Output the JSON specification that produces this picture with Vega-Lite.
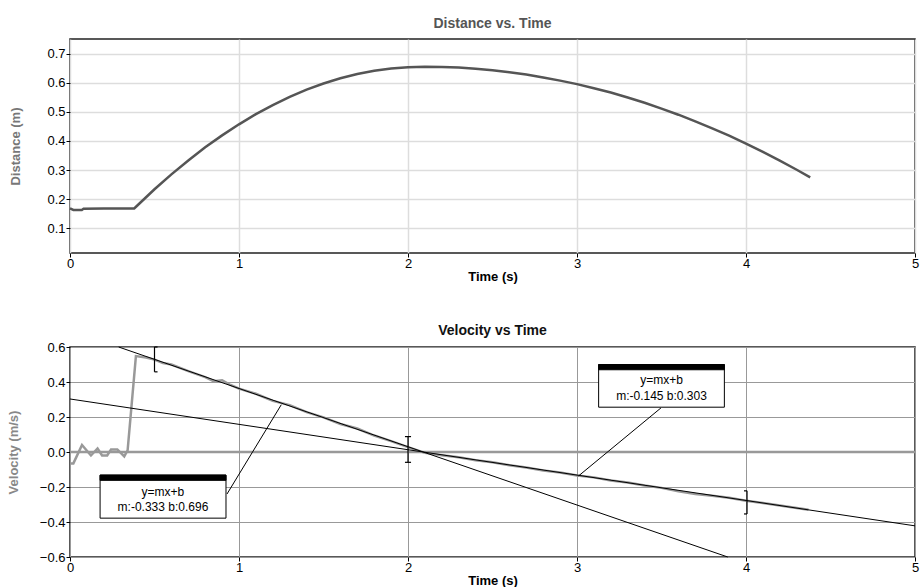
{
  "$schema": "https://vega.github.io/schema/vega-lite/v6.json",
  "padding": {"left": 6, "top": 16, "right": 2, "bottom": 2},
  "spacing": 39,
  "config": {
    "font": "Liberation Sans",
    "view": {"stroke": "#222", "strokeWidth": 1.5},
    "axis": {"labelFontSize": 13, "labelColor": "#000", "titleFontSize": 13, "titleFontWeight": "bold", "tickColor": "#000", "tickSize": 4, "domain": false, "labelFlush": false},
    "title": {"fontSize": 14, "fontWeight": "bold", "offset": 8}
  },
  "datasets": {
    "dist": [
      {"t": 0, "d": 0.168}, {"t": 0.02, "d": 0.163}, {"t": 0.07, "d": 0.163}, {"t": 0.08, "d": 0.167}, {"t": 0.2, "d": 0.168}, {"t": 0.38, "d": 0.168},
      {"t": 0.4, "d": 0.179}, {"t": 0.5, "d": 0.234}, {"t": 0.6, "d": 0.285}, {"t": 0.7, "d": 0.333}, {"t": 0.8, "d": 0.378}, {"t": 0.9, "d": 0.419},
      {"t": 1.0, "d": 0.457}, {"t": 1.1, "d": 0.492}, {"t": 1.2, "d": 0.523}, {"t": 1.3, "d": 0.551}, {"t": 1.4, "d": 0.576}, {"t": 1.5, "d": 0.597},
      {"t": 1.6, "d": 0.615}, {"t": 1.7, "d": 0.630}, {"t": 1.8, "d": 0.641}, {"t": 1.9, "d": 0.649}, {"t": 2.0, "d": 0.653}, {"t": 2.1, "d": 0.655},
      {"t": 2.2, "d": 0.654}, {"t": 2.3, "d": 0.652}, {"t": 2.4, "d": 0.648}, {"t": 2.5, "d": 0.643}, {"t": 2.6, "d": 0.636}, {"t": 2.7, "d": 0.628},
      {"t": 2.8, "d": 0.618}, {"t": 2.9, "d": 0.607}, {"t": 3.0, "d": 0.595}, {"t": 3.1, "d": 0.581}, {"t": 3.2, "d": 0.566}, {"t": 3.3, "d": 0.549},
      {"t": 3.4, "d": 0.531}, {"t": 3.5, "d": 0.511}, {"t": 3.6, "d": 0.490}, {"t": 3.7, "d": 0.467}, {"t": 3.8, "d": 0.443}, {"t": 3.9, "d": 0.418},
      {"t": 4.0, "d": 0.391}, {"t": 4.1, "d": 0.362}, {"t": 4.2, "d": 0.332}, {"t": 4.3, "d": 0.301}, {"t": 4.38, "d": 0.275}
    ],
    "vel": [
      {"t": 0, "v": -0.065}, {"t": 0.02, "v": -0.065}, {"t": 0.071, "v": 0.04}, {"t": 0.124, "v": -0.02}, {"t": 0.163, "v": 0.02}, {"t": 0.19, "v": -0.02},
      {"t": 0.22, "v": -0.02}, {"t": 0.243, "v": 0.015}, {"t": 0.28, "v": 0.015}, {"t": 0.321, "v": -0.025}, {"t": 0.341, "v": 0.01},
      {"t": 0.39, "v": 0.548}, {"t": 0.45, "v": 0.54}, {"t": 0.5, "v": 0.528}, {"t": 0.55, "v": 0.508}, {"t": 0.6, "v": 0.5}, {"t": 0.7, "v": 0.462},
      {"t": 0.8, "v": 0.428}, {"t": 0.85, "v": 0.405}, {"t": 0.9, "v": 0.41}, {"t": 0.95, "v": 0.383}, {"t": 1.0, "v": 0.362}, {"t": 1.1, "v": 0.333},
      {"t": 1.2, "v": 0.292}, {"t": 1.3, "v": 0.268}, {"t": 1.4, "v": 0.228}, {"t": 1.5, "v": 0.198}, {"t": 1.6, "v": 0.16}, {"t": 1.7, "v": 0.134},
      {"t": 1.8, "v": 0.094}, {"t": 1.9, "v": 0.062}, {"t": 2.0, "v": 0.028}, {"t": 2.1, "v": -0.005}, {"t": 2.2, "v": -0.018}, {"t": 2.3, "v": -0.03},
      {"t": 2.4, "v": -0.047}, {"t": 2.5, "v": -0.058}, {"t": 2.6, "v": -0.076}, {"t": 2.7, "v": -0.088}, {"t": 2.8, "v": -0.106}, {"t": 2.9, "v": -0.117},
      {"t": 3.0, "v": -0.134}, {"t": 3.1, "v": -0.145}, {"t": 3.2, "v": -0.163}, {"t": 3.3, "v": -0.174}, {"t": 3.4, "v": -0.192}, {"t": 3.5, "v": -0.205},
      {"t": 3.6, "v": -0.225}, {"t": 3.7, "v": -0.24}, {"t": 3.8, "v": -0.25}, {"t": 3.9, "v": -0.262}, {"t": 4.0, "v": -0.278}, {"t": 4.1, "v": -0.292},
      {"t": 4.2, "v": -0.306}, {"t": 4.3, "v": -0.32}, {"t": 4.37, "v": -0.33}
    ],
    "zero": [{"t": 0, "v": 0}, {"t": 5, "v": 0}],
    "segs": [
      {"g": "fit1", "t": 0.288, "v": 0.6}, {"g": "fit1", "t": 3.892, "v": -0.6},
      {"g": "fit2", "t": 0, "v": 0.303}, {"g": "fit2", "t": 5, "v": -0.422},
      {"g": "lead1", "t": 0.929, "v": -0.24}, {"g": "lead1", "t": 1.25, "v": 0.27},
      {"g": "lead2", "t": 3.497, "v": 0.252}, {"g": "lead2", "t": 3.01, "v": -0.136}
    ],
    "brackets": [
      {"t": 0.5, "v": 0.458, "v2": 0.6},
      {"t": 2.0, "v": -0.059, "v2": 0.088},
      {"t": 4.006, "v": -0.354, "v2": -0.222}
    ],
    "bticks": [
      {"t": 0.5, "t2": 0.518, "v": 0.6}, {"t": 0.5, "t2": 0.518, "v": 0.458},
      {"t": 1.982, "t2": 2.018, "v": 0.088}, {"t": 1.982, "t2": 2.018, "v": -0.059},
      {"t": 3.988, "t2": 4.006, "v": -0.222}, {"t": 3.988, "t2": 4.006, "v": -0.354}
    ],
    "boxes": [
      {"t": 0.178, "t2": 0.923, "v": -0.132, "v2": -0.378},
      {"t": 3.128, "t2": 3.872, "v": 0.5, "v2": 0.256}
    ],
    "headers": [
      {"t": 0.178, "t2": 0.923, "v": -0.132, "v2": -0.162},
      {"t": 3.128, "t2": 3.872, "v": 0.5, "v2": 0.47}
    ],
    "labels": [
      {"t": 0.55, "v": -0.227, "txt": "y=mx+b"},
      {"t": 0.55, "v": -0.313, "txt": "m:-0.333 b:0.696"},
      {"t": 3.5, "v": 0.413, "txt": "y=mx+b"},
      {"t": 3.5, "v": 0.321, "txt": "m:-0.145 b:0.303"}
    ]
  },
  "vconcat": [
    {
      "width": 845,
      "height": 214,
      "title": {"text": "Distance vs. Time", "color": "#555"},
      "data": {"name": "dist"},
      "mark": {"type": "line", "color": "#555", "strokeWidth": 2.5},
      "encoding": {
        "x": {"field": "t", "type": "quantitative", "scale": {"domain": [0, 5], "nice": false},
              "axis": {"title": "Time (s)", "values": [0, 1, 2, 3, 4, 5], "format": "d", "gridColor": "#ddd", "gridWidth": 1.5, "titleColor": "#000", "titlePadding": 0, "labelPadding": 0}},
        "y": {"field": "d", "type": "quantitative", "scale": {"domain": [0.015, 0.75], "nice": false, "zero": false},
              "axis": {"title": "Distance (m)", "values": [0.1, 0.2, 0.3, 0.4, 0.5, 0.6, 0.7], "format": ".1f", "gridColor": "#ddd", "gridWidth": 1.5, "titleColor": "#777", "titlePadding": 24, "labelPadding": 1}}
      }
    },
    {
      "width": 845,
      "height": 210,
      "title": {"text": "Velocity vs Time", "color": "#111", "offset": 3},
      "encoding": {
        "x": {"field": "t", "type": "quantitative", "scale": {"domain": [0, 5], "nice": false},
              "axis": {"title": "Time (s)", "values": [0, 1, 2, 3, 4, 5], "format": "d", "gridColor": "#999", "gridWidth": 1, "titleColor": "#000", "titlePadding": 0, "labelPadding": 0}},
        "y": {"field": "v", "type": "quantitative", "scale": {"domain": [-0.6, 0.6], "nice": false, "zero": false},
              "axis": {"title": "Velocity (m/s)", "values": [-0.6, -0.4, -0.2, 0, 0.2, 0.4, 0.6], "format": ".1f", "gridColor": "#999", "gridWidth": 1, "titleColor": "#888", "titlePadding": 19, "labelPadding": 1}}
      },
      "layer": [
        {"data": {"name": "zero"}, "mark": {"type": "line", "color": "#999", "strokeWidth": 2.5}},
        {"data": {"name": "vel"}, "mark": {"type": "line", "color": "#999", "strokeWidth": 2.5}},
        {"data": {"name": "segs"}, "mark": {"type": "line", "color": "#000", "strokeWidth": 1}, "encoding": {"detail": {"field": "g"}}},
        {"data": {"name": "brackets"}, "mark": {"type": "rule", "color": "#000", "strokeWidth": 1.2}, "encoding": {"y2": {"field": "v2"}}},
        {"data": {"name": "bticks"}, "mark": {"type": "rule", "color": "#000", "strokeWidth": 1.2}, "encoding": {"x2": {"field": "t2"}}},
        {"data": {"name": "boxes"}, "mark": {"type": "rect", "fill": "#fff", "stroke": "#000", "strokeWidth": 1}, "encoding": {"x2": {"field": "t2"}, "y2": {"field": "v2"}}},
        {"data": {"name": "headers"}, "mark": {"type": "rect", "fill": "#000", "stroke": "#000", "strokeWidth": 1}, "encoding": {"x2": {"field": "t2"}, "y2": {"field": "v2"}}},
        {"data": {"name": "labels"}, "mark": {"type": "text", "fontSize": 12, "color": "#000", "baseline": "middle", "align": "center"}, "encoding": {"text": {"field": "txt"}}}
      ]
    }
  ]
}
